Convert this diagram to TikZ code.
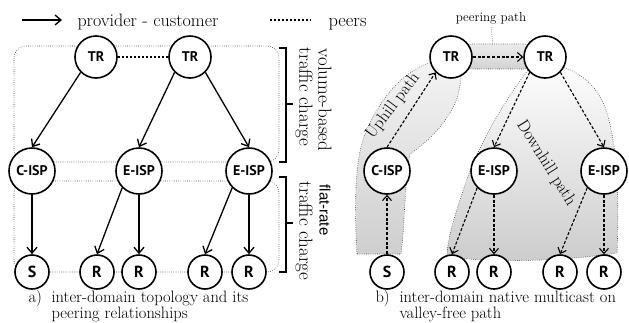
\documentclass[tikz,border=0pt]{standalone}
\usepackage{fontspec}
\newfontfamily\nodefont{PT Sans}
\newfontfamily\arialfont{Liberation Sans}
\usetikzlibrary{positioning,arrows.meta}

\begin{document}
\begin{tikzpicture}[x=1pt,y=-1pt,on grid,
    as/.style={circle,draw,line width=1.6pt,fill=white,inner sep=0pt,font=\nodefont\bfseries\fontsize{14}{14}\selectfont},
    tr/.style={as,minimum size=42pt},
    isp/.style={as,minimum size=46pt},
    host/.style={as,minimum size=34pt,font=\nodefont\bfseries\fontsize{16}{16}\selectfont},
    pc/.style={-{Straight Barb[length=6pt,width=10pt]},line width=1.3pt},
    mc/.style={-{Straight Barb[length=5pt,width=9pt]},line width=1.1pt,dash pattern=on 3pt off 1.8pt},
    peer/.style={line width=1.4pt,dash pattern=on 2.4pt off 1.6pt},
    area/.style={draw=black!80,line width=0.6pt,dash pattern=on 0.6pt off 1.6pt},
    charge/.style={rotate=-90,inner sep=0pt,font=\fontsize{19}{19}\selectfont},
    capt/.style={anchor=base west,font=\fontsize{16.5}{17}\selectfont}]
    \useasboundingbox (0,0) rectangle (629,322);

    \draw[area,rounded corners=12pt] (14,46) rectangle (279,162);
    \draw[area,rounded corners=12pt] (14,181) rectangle (279,272);
    \shade[area,top color=gray!15,bottom color=gray!35,rounded corners=6pt] (465,44) rectangle (530,69);
    \shade[area,top color=gray!8,bottom color=gray!38] (357,254) .. controls (354,205) and (355,155) .. (366,132)
        .. controls (378,103) and (400,72) .. (432,62) -- (451,57) -- (460,72)
        .. controls (464,100) and (442,132) .. (410,154) .. controls (404,185) and (405,225) .. (401,254) -- cycle;
    \shade[area,top color=white,bottom color=gray!40] (545,57) -- (528,70) .. controls (505,100) and (478,145) .. (465,185)
        .. controls (455,215) and (448,235) .. (447,256) .. controls (480,263) and (560,262) .. (617,253)
        .. controls (619,200) and (618,150) .. (607,113) .. controls (600,90) and (585,75) .. (565,68) -- cycle;

    \node[tr] (tr1) at (96,57) {TR};
    \node[tr] (tr2) [right=94pt of tr1] {TR};
    \node[isp] (cisp) at (32,171) {C-ISP};
    \node[isp] (eisp1) [right=107pt of cisp] {E-ISP};
    \node[isp] (eisp2) [right=110pt of eisp1] {E-ISP};
    \node[host] (s) [below=101pt of cisp] {S};
    \node[host] (r1) [below left=101pt and 42pt of eisp1] {R};
    \node[host] (r2) [below=101pt of eisp1] {R};
    \node[host] (r3) [below left=101pt and 44pt of eisp2] {R};
    \node[host] (r4) [below=101pt of eisp2] {R};

    \begin{scope}[xshift=355pt]
    \node[tr] (tr3) at (96,57) {TR};
    \node[tr] (tr4) [right=94pt of tr3] {TR};
    \node[isp] (cisp2) at (32,171) {C-ISP};
    \node[isp] (eisp3) [right=107pt of cisp2] {E-ISP};
    \node[isp] (eisp4) [right=110pt of eisp3] {E-ISP};
    \node[host] (s2) [below=101pt of cisp2] {S};
    \node[host] (r5) [below left=101pt and 42pt of eisp3] {R};
    \node[host] (r6) [below=101pt of eisp3] {R};
    \node[host] (r7) [below left=101pt and 44pt of eisp4] {R};
    \node[host] (r8) [below=101pt of eisp4] {R};
    \end{scope}

    \draw[peer] (tr1) -- (tr2);
    \draw[pc] (tr1.south west) -- (cisp.north);
    \draw[pc] (tr2.south west) -- (eisp1.north);
    \draw[pc] (tr2.south east) -- (eisp2.north);
    \draw[pc] (cisp) -- (s);
    \draw[pc] (eisp1.south west) -- (r1.north);
    \draw[pc] (eisp1) -- (r2);
    \draw[pc] (eisp2.south west) -- (r3.north);
    \draw[pc] (eisp2) -- (r4);

    \draw[mc] (s2) -- (cisp2);
    \draw[mc] (cisp2.north) -- (tr3.south west);
    \draw[mc] (tr3) -- (tr4);
    \draw[mc] (tr4.south west) -- (eisp3.north);
    \draw[mc] (tr4.south east) -- (eisp4.north);
    \draw[mc] (eisp3.south west) -- (r5.north);
    \draw[mc] (eisp3) -- (r6);
    \draw[mc] (eisp4.south west) -- (r7.north);
    \draw[mc] (eisp4) -- (r8);

    \coordinate (pcfrom) at (22,20);
    \coordinate (pcto) at (62,20);
    \draw[pc] (pcfrom) -- (pcto);
    \node[anchor=base west,font=\fontsize{18}{18}\selectfont] (pclabel) at (74,26) {provider - customer};
    \coordinate (peerfrom) at (270,20);
    \coordinate (peerto) at (311,20);
    \draw[peer] (peerfrom) -- (peerto);
    \node[anchor=base west,font=\fontsize{18.5}{18}\selectfont] (peerlabel) at (325,26) {peers};

    \draw[line width=1.5pt] (279,48) -- (286,48) -- (286,162) -- (279,162);
    \draw[line width=1.5pt] (286,104) -- (293,104);
    \draw[line width=1.5pt] (279,177) -- (286,177) -- (286,272) -- (279,272);
    \draw[line width=1.5pt] (286,223) -- (293,223);
    \node[charge] (vb) at (325,100) {volume-based};
    \node[charge] (tc1) at (304,97) {traffic charge};
    \node[charge,font=\arialfont\fontsize{15}{15}\selectfont] (fr) at (325,210) {flat-rate};
    \node[charge] (tc2) at (304,231) {traffic charge};

    \node[font=\fontsize{13}{13}\selectfont] (pplabel) at (491,18) {peering path};
    \coordinate (ppband) at (493,44);
    \draw[area] (pplabel.south) -- (ppband);
    \node[rotate=53,font=\fontsize{17}{17}\selectfont] (uplabel) at (393,106) {Uphill path};
    \node[rotate=-58,font=\fontsize{17}{17}\selectfont] (downlabel) at (546,163) {Downhill path};

    \node[capt] (capa) at (25,302) {a)};
    \node[capt] (capa1) at (48,302) {inter-domain topology and its};
    \node[capt] (capa2) at (48,318) {peering relationships};
    \node[capt] (capb) at (372,302) {b)};
    \node[capt] (capb1) at (396,302) {inter-domain native multicast on};
    \node[capt] (capb2) at (396,318) {valley-free path};
\end{tikzpicture}
\end{document}
